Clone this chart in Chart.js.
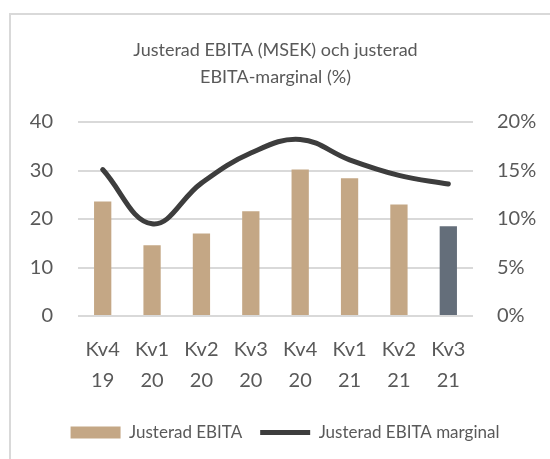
<!DOCTYPE html>
<html>
<head>
<meta charset="utf-8">
<script src="https://cdn.jsdelivr.net/npm/chart.js@4"></script>
<style>
  html, body { margin: 0; padding: 0; background: #fff; overflow: hidden; }
  #frame { position: absolute; left: 9px; top: 13px; width: 600px; height: 500px;
           border-left: 2px solid #d9d9d9; border-top: 2px solid #d9d9d9; }
  #wrap { position: absolute; left: 0; top: 0; width: 550px; height: 459px; }
</style>
</head>
<body>
<div id="frame"></div>
<div id="wrap"><canvas id="c" width="550" height="459"></canvas></div>
<script>
const categories = [['Kv4','19'],['Kv1','20'],['Kv2','20'],['Kv3','20'],['Kv4','20'],['Kv1','21'],['Kv2','21'],['Kv3','21']];
const ebita = [23.6, 14.6, 17.0, 21.6, 30.2, 28.4, 23.0, 18.5];
const marginPct = [15.1, 9.5, 13.7, 16.8, 18.2, 16.1, 14.5, 13.6];
const leftTicks = [0, 10, 20, 30, 40];
const rightTicks = [0, 5, 10, 15, 20];

const FONT = "Lato, 'Open Sans', sans-serif";
const TXT = '#595959';
const TAN = '#c4a785';
const SLATE = '#646e7a';
const LINE = '#3d3d3d';

const PAD_L = 20, PAD_R = 0;
const barColors = ebita.map((v, i) => i === ebita.length - 1 ? SLATE : TAN);

new Chart(document.getElementById('c'), {
  data: {
    labels: categories,
    datasets: [
      {
        type: 'line',
        label: 'Justerad EBITA marginal',
        data: marginPct,
        yAxisID: 'y1',
        borderColor: LINE,
        borderWidth: 5,
        borderCapStyle: 'round',
        pointRadius: 0,
        tension: 0.4,
        fill: false,
        order: 0
      },
      {
        type: 'bar',
        label: 'Justerad EBITA',
        data: ebita,
        yAxisID: 'y',
        backgroundColor: barColors,
        categoryPercentage: 1,
        barPercentage: 0.35,
        order: 1
      }
    ]
  },
  options: {
    responsive: false,
    animation: false,
    layout: { padding: { left: PAD_L, right: PAD_R, top: 37, bottom: 8 } },
    plugins: {
      title: {
        display: true,
        fullSize: false,
        text: ['Justerad EBITA (MSEK) och justerad', 'EBITA-marginal (%)'],
        color: TXT,
        font: { family: FONT, size: 18, weight: 'normal', lineHeight: 1.5 },
        padding: { top: 0, bottom: 31 }
      },
      legend: {
        position: 'bottom',
        labels: {
          color: TXT,
          font: { family: FONT, size: 17 },
          usePointStyle: true,
          pointStyleWidth: 50,
          boxHeight: 12,
          padding: 18,
          generateLabels: (chart) => [
            { text: 'Justerad EBITA', pointStyle: 'rect', fillStyle: TAN, strokeStyle: TAN, lineWidth: 0, datasetIndex: 1, fontColor: TXT },
            { text: 'Justerad EBITA marginal', pointStyle: 'line', fillStyle: LINE, strokeStyle: LINE, lineWidth: 5, datasetIndex: 0, fontColor: TXT }
          ]
        }
      },
      tooltip: { enabled: false }
    },
    scales: {
      x: {
        grid: { display: false },
        border: { display: false },
        ticks: { color: TXT, font: { family: FONT, size: 20, lineHeight: 1.55 }, padding: 10, maxRotation: 0 }
      },
      y: {
        position: 'left',
        min: 0, max: 40,
        afterBuildTicks: (s) => { s.ticks = leftTicks.map(v => ({ value: v })); },
        afterFit: (s) => { s.width = 78 - PAD_L; },
        grid: { color: '#d9d9d9', lineWidth: 2, drawTicks: false },
        border: { display: false },
        ticks: { color: TXT, font: { family: FONT, size: 20 }, padding: 25 }
      },
      y1: {
        position: 'right',
        min: 0, max: 20,
        afterBuildTicks: (s) => { s.ticks = rightTicks.map(v => ({ value: v })); },
        afterFit: (s) => { s.width = 550 - 473 - PAD_R; },
        grid: { display: false, drawTicks: false },
        border: { display: false },
        ticks: { color: TXT, font: { family: FONT, size: 20 }, padding: 24, callback: (v) => v + '%' }
      }
    }
  }
});
</script>
</body>
</html>
